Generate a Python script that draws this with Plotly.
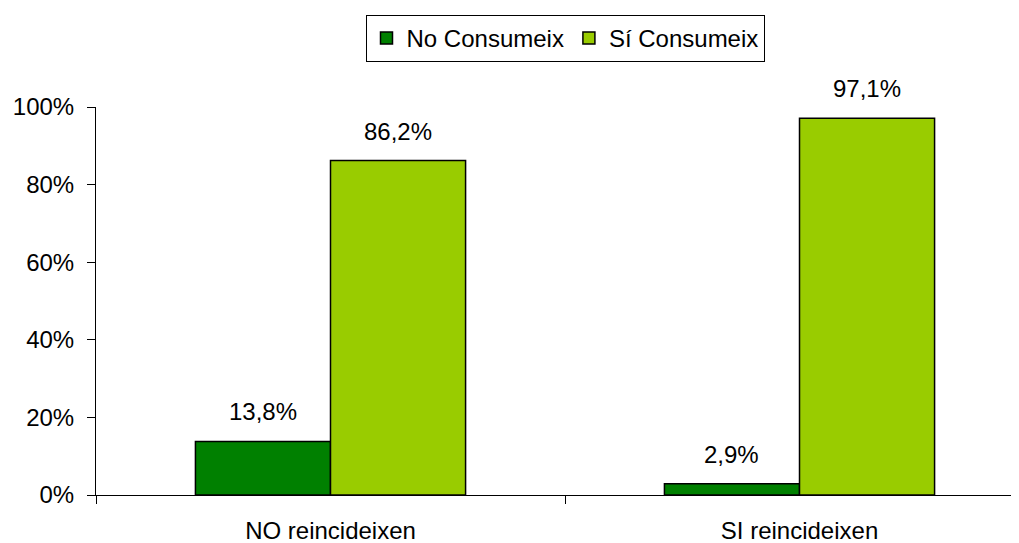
import plotly.graph_objects as go

categories = ["NO reincideixen", "SI reincideixen"]
series_names = ["No Consumeix", "Sí Consumeix"]
no_consumeix = [13.8, 2.9]
si_consumeix = [86.2, 97.1]
label_no = ["13,8%", "2,9%"]
label_si = ["86,2%", "97,1%"]
y_ticks = [0, 20, 40, 60, 80, 100]
y_ticktext = ["0%", "20%", "40%", "60%", "80%", "100%"]

colors = ["#008000", "#99CC00"]
FONT = "Liberation Sans, Arial, sans-serif"
W, H = 1011, 535
ML, MR, MT, MB = 88, 0, 99, 48
BARGAP = 0.424
XRANGE = [-0.5, 1.468]

fig = go.Figure()
for name, vals, col in zip(series_names, [no_consumeix, si_consumeix], colors):
    fig.add_trace(go.Bar(
        x=categories, y=vals, name=name,
        marker=dict(color=col, line=dict(color="black", width=1.5)),
    ))

# data labels above bars
px_per_cat = (W - ML - MR) / (XRANGE[1] - XRANGE[0])
bar_px = px_per_cat * (1 - BARGAP) / 2
for labels, vals, sign in [(label_no, no_consumeix, -1), (label_si, si_consumeix, 1)]:
    for cat, v, t in zip(categories, vals, labels):
        fig.add_annotation(
            x=cat, y=v, xref="x", yref="y", text=t, showarrow=False,
            xanchor="center", yanchor="bottom",
            xshift=sign * bar_px / 2, yshift=14,
            font=dict(family=FONT, size=24, color="black"),
        )

fig.update_layout(
    template="none",
    width=W, height=H,
    margin=dict(l=ML, r=MR, t=MT, b=MB),
    paper_bgcolor="white", plot_bgcolor="white",
    barmode="group", bargap=BARGAP, bargroupgap=0,
    font=dict(family=FONT, size=24, color="black"),
    showlegend=True,
    legend=dict(
        orientation="h", xref="container", yref="container",
        x=557 / W, xanchor="center", y=1 - 7 / H, yanchor="top",
        bordercolor="black", borderwidth=1, bgcolor="white",
        font=dict(family=FONT, size=24, color="black"),
        itemwidth=30, tracegroupgap=0,
    ),
    xaxis=dict(
        type="category", range=XRANGE, tickson="boundaries",
        ticks="outside", ticklen=8, tickwidth=1, tickcolor="black",
        showline=True, linecolor="black", linewidth=1,
        showgrid=False, zeroline=False, automargin=False,
        ticklabelstandoff=14,
        tickfont=dict(family=FONT, size=24, color="black"),
    ),
    yaxis=dict(
        range=[0, 100], tickvals=y_ticks, ticktext=y_ticktext,
        ticks="outside", ticklen=8, tickwidth=1, tickcolor="black",
        showline=True, linecolor="black", linewidth=1,
        showgrid=False, zeroline=False, automargin=False,
        ticklabelstandoff=8,
        tickfont=dict(family=FONT, size=24, color="black"),
    ),
)

fig.write_html("out.html")
